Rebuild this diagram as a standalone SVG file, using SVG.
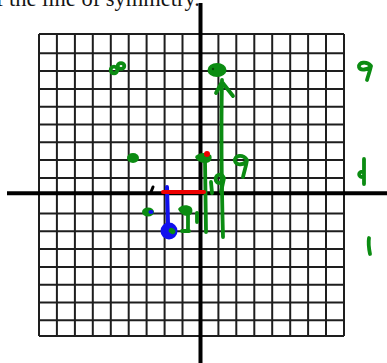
<svg xmlns="http://www.w3.org/2000/svg" width="387" height="363" viewBox="0 0 387 363">
<style>
.grid line{stroke:#1e1e1e;stroke-width:2}
.axis{stroke:#000;stroke-width:4}
.g{stroke:#0b8c12;fill:none;stroke-width:3.8;stroke-linecap:round;stroke-linejoin:round}
.gf{fill:#0b8c12}
.title{font-family:"Liberation Serif",serif;font-size:22.5px;fill:#151515}
</style>
<rect width="387" height="363" fill="#fff"/>
<text class="title" x="200" y="6" text-anchor="end">of the line of symmetry.</text>
<g id="grid" class="grid">
<line x1="39" y1="34" x2="39" y2="336"/><line x1="56.9" y1="34" x2="56.9" y2="336"/><line x1="74.9" y1="34" x2="74.9" y2="336"/><line x1="92.8" y1="34" x2="92.8" y2="336"/><line x1="110.8" y1="34" x2="110.8" y2="336"/><line x1="128.7" y1="34" x2="128.7" y2="336"/><line x1="146.6" y1="34" x2="146.6" y2="336"/><line x1="164.6" y1="34" x2="164.6" y2="336"/><line x1="182.5" y1="34" x2="182.5" y2="336"/><line x1="218.4" y1="34" x2="218.4" y2="336"/><line x1="236.3" y1="34" x2="236.3" y2="336"/><line x1="254.3" y1="34" x2="254.3" y2="336"/><line x1="272.2" y1="34" x2="272.2" y2="336"/><line x1="290.2" y1="34" x2="290.2" y2="336"/><line x1="308.1" y1="34" x2="308.1" y2="336"/><line x1="326" y1="34" x2="326" y2="336"/><line x1="344" y1="34" x2="344" y2="336"/>
<line x1="39" y1="34" x2="344" y2="34"/><line x1="39" y1="53.3" x2="344" y2="53.3"/><line x1="39" y1="71.1" x2="344" y2="71.1"/><line x1="39" y1="88.9" x2="344" y2="88.9"/><line x1="39" y1="106.7" x2="344" y2="106.7"/><line x1="39" y1="124.5" x2="344" y2="124.5"/><line x1="39" y1="142.3" x2="344" y2="142.3"/><line x1="39" y1="160.1" x2="344" y2="160.1"/><line x1="39" y1="177.9" x2="344" y2="177.9"/><line x1="39" y1="213.5" x2="344" y2="213.5"/><line x1="39" y1="231.3" x2="344" y2="231.3"/><line x1="39" y1="249.1" x2="344" y2="249.1"/><line x1="39" y1="266.9" x2="344" y2="266.9"/><line x1="39" y1="284.7" x2="344" y2="284.7"/><line x1="39" y1="302.5" x2="344" y2="302.5"/><line x1="39" y1="320.3" x2="344" y2="320.3"/><line x1="39" y1="336" x2="344" y2="336"/>
</g>
<g id="axes">
<line class="axis" x1="7" y1="193.3" x2="387" y2="193.3"/>
<line class="axis" x1="200.5" y1="3" x2="200.5" y2="363"/>
</g>
<g id="marks">
<ellipse class="g" cx="114" cy="70" rx="3.3" ry="3.3"/>
<ellipse class="g" cx="121" cy="66" rx="3.3" ry="2.9"/>
<ellipse class="gf" cx="133" cy="158" rx="6" ry="5"/>
<path class="g" d="M371 66 C367 61 358 62 359 67 C360 71 368 70 371 66 C370 71 368 76 367 80"/>
<path class="g" d="M364 159 L364 184 M364 172 C358 170 357 178 364 177"/>
<path class="g" d="M369 238 C368 244 369 249 370 254"/>
<ellipse class="gf" cx="217" cy="70" rx="9.5" ry="7"/>
<circle cx="213" cy="69" r="1.2" fill="#0a4a0a"/>
<path class="g" d="M223 237 C222 200 221 130 222 80 M222 82 L216 93 M222 82 L233 96"/>
<path class="gf" d="M195 157 C198 152 206 152 211 155 C213 159 210 163 206 163 C201 163 197 161 195 157 Z"/>
<path class="g" d="M205 160 L206 232"/>
<path class="g" d="M211 182 L212 193 M224 178 C221 172 214 175 216 181 C218 185 223 182 224 178 L221 192"/>
<path class="g" d="M247 160 C243 154 234 155 235 161 C236 166 245 165 247 160 C246 167 244 172 243 177"/>
<ellipse class="gf" cx="148" cy="212" rx="6" ry="4.5"/>
<ellipse cx="151" cy="212" rx="2.6" ry="2" fill="#1111ee"/>
<path class="gf" d="M178 209 C180 205 187 204 191 207 C194 210 192 216 187 216 C183 216 180 213 178 209 Z"/>
<path class="g" d="M188 213 L188 230 M182 231 L189 231 M197 213 L197 222"/>
<path d="M167 187 L168 224" stroke="#1111ee" stroke-width="4" stroke-linecap="round" fill="none"/>
<circle cx="169" cy="231" r="8.5" fill="#1111ee"/>
<ellipse class="gf" cx="172" cy="231" rx="3.5" ry="2.8" transform="rotate(35 172 231)"/>
<path d="M163 192 L204 192" stroke="#ee0000" stroke-width="4" stroke-linecap="round" fill="none"/>
<circle cx="207" cy="154" r="3" fill="#ee0000"/>
<path d="M151 192 L153 187" stroke="#000" stroke-width="3" stroke-linecap="round" fill="none"/>
</g>
</svg>
